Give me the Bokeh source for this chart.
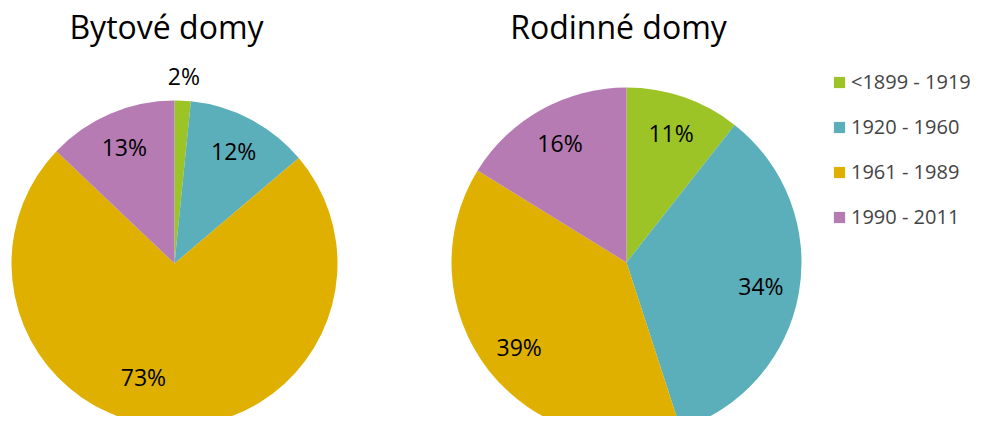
import math
from bokeh.plotting import figure
from bokeh.models import ColumnDataSource, Range1d, Legend, LegendItem
from bokeh.core.properties import value
from bokeh.embed import file_html
from bokeh.resources import INLINE

categories = ["<1899 - 1919", "1920 - 1960", "1961 - 1989", "1990 - 2011"]
colors = ["#9DC427", "#5BAFBA", "#DFB000", "#B67BB3"]
titles = ["Bytové domy", "Rodinné domy"]
bytove_domy = [1.6, 12.2, 73.3, 12.9]
rodinne_domy = [10.6, 34.4, 38.8, 16.2]

FONT = "Open Sans"
W, H = 973, 416

p = figure(width=W, height=H, x_range=Range1d(0, W), y_range=Range1d(432 - H, 432),
           output_backend="svg", toolbar_location=None, min_border=0,
           x_axis_type=None, y_axis_type=None)
p.grid.visible = False
p.outline_line_color = None
p.background_fill_color = "white"


def Y(y):
    return 432 - y


pies = [
    dict(title=titles[0], values=bytove_domy, cx=174, cy=Y(263), r=163),
    dict(title=titles[1], values=rodinne_domy, cx=626, cy=Y(262), r=175),
]

renderers = []
for pie in pies:
    vals = pie["values"]
    total = sum(vals)
    cum = 0.0
    starts, ends, lx, ly, labels = [], [], [], [], []
    for v in vals:
        a0 = math.pi / 2 - 2 * math.pi * cum / total
        cum += v
        a1 = math.pi / 2 - 2 * math.pi * cum / total
        starts.append(a0)
        ends.append(a1)
        share = v / total
        mid = (a0 + a1) / 2
        if share > 0.5:
            # large slice: label pulled toward the left like the spreadsheet's best fit
            mid -= 0.24
            frac = 0.72
        elif share >= 0.05:
            frac = 0.78
        else:
            frac = 1.15
        lx.append(pie["cx"] + pie["r"] * frac * math.cos(mid))
        ly.append(pie["cy"] + pie["r"] * frac * math.sin(mid))
        labels.append(f"{round(share * 100)}%")
    src = ColumnDataSource(dict(start=starts, end=ends, color=colors, cat=categories,
                                lx=lx, ly=ly, label=labels))
    r = p.wedge(x=pie["cx"], y=pie["cy"], radius=pie["r"], start_angle="start",
                end_angle="end", direction="clock", fill_color="color",
                line_color=None, source=src)
    renderers.append(r)
    p.text(x="lx", y="ly", text="label", source=src, text_font=value(FONT),
           text_font_size="23px", text_color="#000000", text_align="center",
           text_baseline="middle")
    p.text(x=[pie["cx"] - 8], y=[Y(26)], text=[pie["title"]], text_font=value(FONT),
           text_font_size="32px", text_color="#000000", text_align="center",
           text_baseline="alphabetic")

items = [LegendItem(label=c, renderers=[renderers[0]], index=i) for i, c in enumerate(categories)]
legend = Legend(items=items, location=(832, 186), glyph_width=14, glyph_height=14,
                label_text_font=FONT, label_text_font_size="20px", label_standoff=5,
                spacing=18, padding=0, margin=0, border_line_color=None,
                background_fill_alpha=0)
p.add_layout(legend)

open("out.html", "w").write(file_html(p, INLINE))
